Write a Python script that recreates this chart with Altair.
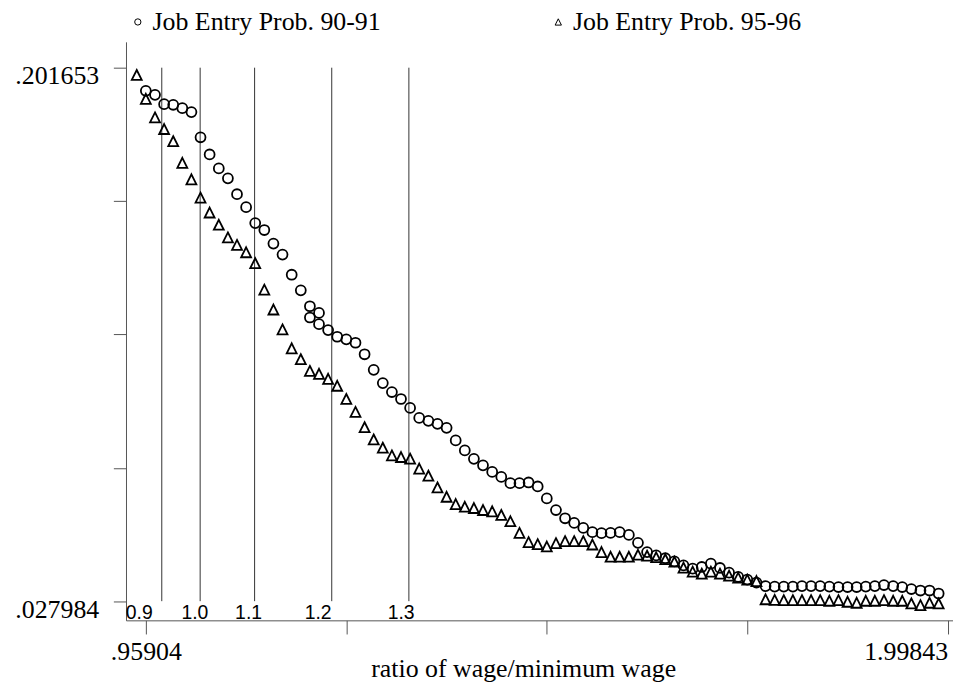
import altair as alt
import pandas as pd

series_names = ["Job Entry Prob. 90-91", "Job Entry Prob. 95-96"]

# Job Entry Prob. 90-91 (circles)
circ_x = [0.9590, 0.9709, 0.9827, 0.9945, 1.0063, 1.0181, 1.0299, 1.0417, 1.0536, 1.0654,
          1.0772, 1.0890, 1.1008, 1.1126, 1.1244, 1.1362, 1.1481, 1.1599, 1.1717, 1.1717,
          1.1835, 1.1835, 1.1953, 1.2071, 1.2189, 1.2308, 1.2426, 1.2544, 1.2662, 1.2780,
          1.2898, 1.3016, 1.3134, 1.3253, 1.3371, 1.3489, 1.3607, 1.3725, 1.3843, 1.3961,
          1.4080, 1.4198, 1.4316, 1.4434, 1.4552, 1.4670, 1.4788, 1.4907, 1.5025, 1.5143,
          1.5261, 1.5379, 1.5497, 1.5615, 1.5733, 1.5852, 1.5970, 1.6088, 1.6206, 1.6324,
          1.6442, 1.6560, 1.6679, 1.6797, 1.6915, 1.7033, 1.7151, 1.7269, 1.7387, 1.7506,
          1.7624, 1.7742, 1.7860, 1.7978, 1.8096, 1.8214, 1.8332, 1.8451, 1.8569, 1.8687,
          1.8805, 1.8923, 1.9041, 1.9159, 1.9278, 1.9396, 1.9514, 1.9632, 1.9750, 1.9868]
circ_y = [0.19411, 0.19282, 0.18978, 0.18958, 0.18848, 0.18719, 0.17900, 0.17340, 0.16887, 0.16564,
          0.16046, 0.15625, 0.15107, 0.14881, 0.14438, 0.14082, 0.13425, 0.12917, 0.12399, 0.12033,
          0.12182, 0.11817, 0.11622, 0.11406, 0.11321, 0.11211, 0.10836, 0.10328, 0.09898, 0.09606,
          0.09380, 0.09089, 0.08765, 0.08668, 0.08571, 0.08441, 0.08031, 0.07707, 0.07432, 0.07221,
          0.07005, 0.06843, 0.06639, 0.06639, 0.06662, 0.06532, 0.06144, 0.05765, 0.05497, 0.05345,
          0.05183, 0.05044, 0.05011, 0.05021, 0.05044, 0.04956, 0.04697, 0.04397, 0.04287, 0.04196,
          0.04092, 0.03963, 0.03856, 0.03911, 0.04018, 0.03879, 0.03727, 0.03588, 0.03500, 0.03403,
          0.03290, 0.03274, 0.03274, 0.03274, 0.03290, 0.03290, 0.03290, 0.03274, 0.03258, 0.03258,
          0.03258, 0.03274, 0.03290, 0.03323, 0.03290, 0.03258, 0.03193, 0.03145, 0.03145, 0.03048]

# Job Entry Prob. 95-96 (triangles)
tri_x = [0.9472, 0.9590, 0.9709, 0.9827, 0.9945, 1.0063, 1.0181, 1.0299, 1.0417, 1.0536,
         1.0654, 1.0772, 1.0890, 1.1008, 1.1126, 1.1244, 1.1362, 1.1481, 1.1599, 1.1717,
         1.1835, 1.1953, 1.2071, 1.2189, 1.2308, 1.2426, 1.2544, 1.2662, 1.2780, 1.2898,
         1.3016, 1.3134, 1.3253, 1.3371, 1.3489, 1.3607, 1.3725, 1.3843, 1.3961, 1.4080,
         1.4198, 1.4316, 1.4434, 1.4552, 1.4670, 1.4788, 1.4907, 1.5025, 1.5143, 1.5261,
         1.5379, 1.5497, 1.5615, 1.5733, 1.5852, 1.5970, 1.6088, 1.6206, 1.6324, 1.6442,
         1.6560, 1.6679, 1.6797, 1.6915, 1.7033, 1.7151, 1.7269, 1.7387, 1.7506, 1.7624,
         1.7742, 1.7860, 1.7978, 1.8096, 1.8214, 1.8332, 1.8451, 1.8569, 1.8687, 1.8805,
         1.8923, 1.9041, 1.9159, 1.9278, 1.9396, 1.9514, 1.9632, 1.9750, 1.9868]
tri_y = [0.19929, 0.19152, 0.18547, 0.18169, 0.17771, 0.17068, 0.16531, 0.15936, 0.15450, 0.15052,
         0.14641, 0.14396, 0.14156, 0.13800, 0.12939, 0.12292, 0.11645, 0.11030, 0.10674, 0.10296,
         0.10199, 0.10037, 0.09810, 0.09380, 0.08959, 0.08461, 0.08063, 0.07794, 0.07545, 0.07490,
         0.07438, 0.07115, 0.06882, 0.06500, 0.06196, 0.05959, 0.05872, 0.05830, 0.05765, 0.05723,
         0.05604, 0.05400, 0.05021, 0.04720, 0.04655, 0.04578, 0.04688, 0.04753, 0.04753, 0.04753,
         0.04642, 0.04397, 0.04244, 0.04244, 0.04244, 0.04309, 0.04277, 0.04228, 0.04164, 0.04083,
         0.03889, 0.03759, 0.03694, 0.03759, 0.03694, 0.03630, 0.03565, 0.03500, 0.03452, 0.02860,
         0.02840, 0.02830, 0.02830, 0.02830, 0.02830, 0.02830, 0.02811, 0.02830, 0.02778, 0.02746,
         0.02811, 0.02811, 0.02830, 0.02811, 0.02811, 0.02723, 0.02669, 0.02746, 0.02723]

x_ticks = [0.95904, 1.21889, 1.47874, 1.73858, 1.99843]
x_tick_labels = [".95904", "", "", "", "1.99843"]
y_ticks = [0.027984, 0.071401, 0.114819, 0.158236, 0.201653]
y_tick_labels = [".027984", "", "", "", ".201653"]

ref_line_x = [0.97966, 1.02940, 1.1, 1.2, 1.3]
ref_labels = ["0.9", "1.0", "1.1", "1.2", "1.3"]
ref_label_x = [0.9504, 1.0226, 1.0922, 1.1824, 1.2900]
ref_label_y = 0.02210

x_domain = [0.933268, 2.005392]
y_domain = [0.021739, 0.210070]

serif = "Liberation Serif"
sans = "Liberation Sans"
axis_grey = "#555555"


def label_expr(values, labels):
    parts = [f"datum.value == {v} ? '{l}'" for v, l in zip(values, labels) if l]
    return " : ".join(parts) + " : ''"


pts = pd.concat([
    pd.DataFrame({"x": circ_x, "y": circ_y, "series": series_names[0]}),
    pd.DataFrame({"x": tri_x, "y": tri_y, "series": series_names[1]}),
], ignore_index=True)

rules = pd.DataFrame({"x": ref_line_x, "y": [y_ticks[-1]] * len(ref_line_x),
                      "y2": [y_ticks[0]] * len(ref_line_x)})
labels = pd.DataFrame({"x": ref_label_x, "y": [ref_label_y] * len(ref_label_x), "lab": ref_labels})

x_axis = alt.Axis(
    values=x_ticks, labelExpr=label_expr(x_ticks, x_tick_labels),
    title="ratio of wage/minimum wage", titleFont=serif, titleFontSize=26,
    titleFontWeight="normal", titleColor="black", titleX=399.6, titleY=56.3,
    titleBaseline="alphabetic", titleAlign="center",
    labelFont=serif, labelFontSize=26, labelColor="black", labelBaseline="alphabetic",
    labelPadding=26, labelFlush=10, labelOverlap=False, labelBound=False,
    tickSize=13.7, tickColor=axis_grey, tickWidth=1, domainColor=axis_grey, domainWidth=1,
    grid=False,
)
y_axis = alt.Axis(
    values=y_ticks, labelExpr=label_expr(y_ticks, y_tick_labels), title=None,
    labelFont=serif, labelFontSize=26, labelColor="black", labelAlign="right",
    labelBaseline="alphabetic", labelOffset=16, labelPadding=14.7, labelFlush=False,
    labelOverlap=False, labelBound=False,
    tickSize=12.7, tickColor=axis_grey, tickWidth=1, domainColor=axis_grey, domainWidth=1,
    grid=False,
)


def X():
    return alt.X("x:Q", scale=alt.Scale(domain=x_domain, nice=False, zero=False), axis=x_axis)


def Y():
    return alt.Y("y:Q", scale=alt.Scale(domain=y_domain, nice=False, zero=False), axis=y_axis)


points = alt.Chart(pts).mark_point(filled=False, color="black", strokeWidth=1.8, size=100, opacity=1).encode(
    x=X(), y=Y(),
    shape=alt.Shape("series:N",
                    scale=alt.Scale(domain=series_names, range=["circle", "M0,-1L1,1L-1,1Z"]),
                    legend=alt.Legend(title=None, orient="none", legendX=-1.1, legendY=-33,
                                      direction="horizontal", labelFont=serif, labelFontSize=26,
                                      labelColor="black", symbolSize=40, symbolStrokeWidth=1,
                                      symbolStrokeColor="black", symbolFillColor="transparent",
                                      labelOffset=1.8, columnPadding=165, padding=0, labelLimit=0,
                                      labelBaseline="middle")),
)

vlines = alt.Chart(rules).mark_rule(color="#333333", strokeWidth=1).encode(
    x=X(), y=Y(), y2="y2:Q"
)

vlabels = alt.Chart(labels).mark_text(font=sans, fontSize=19.5, baseline="alphabetic",
                                      align="center", color="black").encode(
    x=X(), y=Y(), text="lab:N"
)

chart = alt.layer(vlines, vlabels, points).properties(
    width=832, height=582,
    autosize=alt.AutoSizeParams(type="none"),
    padding={"left": 118.7, "top": 32, "right": 0, "bottom": 62},
    background="white",
).configure_view(stroke=None)

chart.save("out.html", embed_options={"renderer": "svg", "actions": False})
